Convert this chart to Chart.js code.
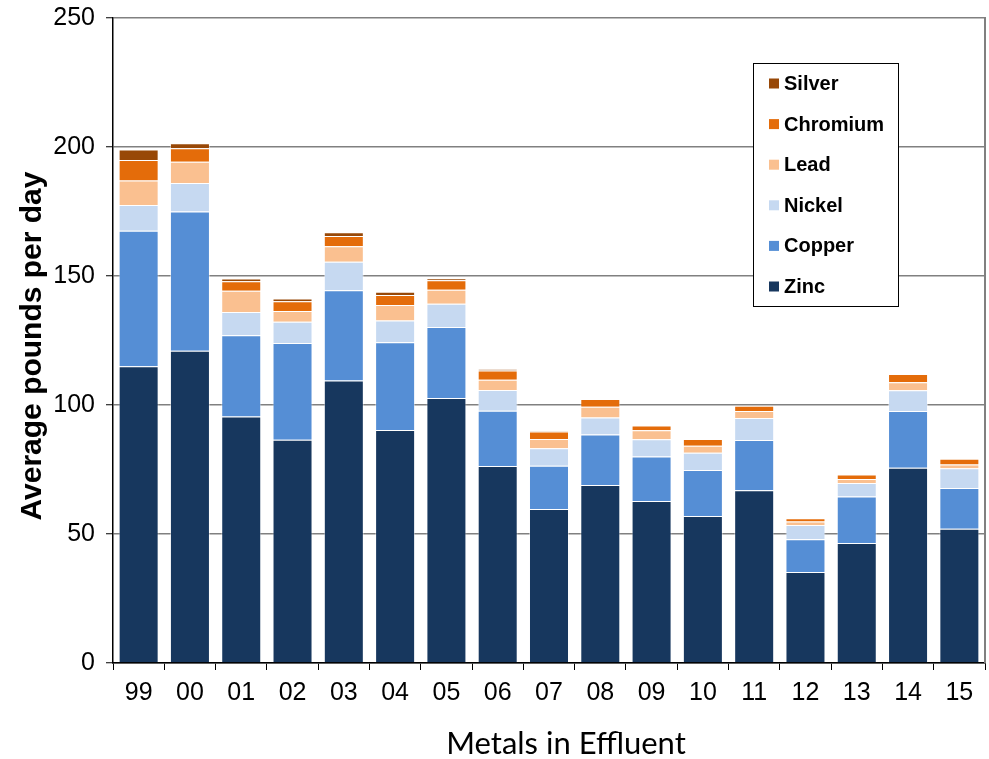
<!DOCTYPE html>
<html>
<head>
<meta charset="utf-8">
<script src="https://cdn.jsdelivr.net/npm/chart.js@4.4.1/dist/chart.umd.min.js"></script>
<style>
  html, body { margin: 0; padding: 0; background: #fff; }
  #wrap { width: 989px; height: 759px; }
</style>
</head>
<body>
<div id="wrap"><canvas id="c" width="989" height="759"></canvas></div>
<script>
// Average pounds per day of each metal in effluent, by year
const years    = ['99', '00', '01', '02', '03', '04', '05', '06', '07', '08', '09', '10', '11', '12', '13', '14', '15'];
const zinc     = [115, 121, 95.5, 86.5, 109.5, 90.3, 102.7, 76.4, 59.7, 69, 62.8, 57, 67, 35.3, 46.5, 75.7, 52];
const copper   = [52.5, 54, 31.5, 37.5, 35, 34, 27.5, 21.4, 16.8, 19.6, 17.2, 17.8, 19.4, 12.7, 18, 22, 15.8];
const nickel   = [10, 11, 9, 8.3, 11, 8.5, 9, 8, 6.7, 6.6, 6.7, 6.7, 8.6, 5.5, 5.3, 8, 7.7];
const lead     = [9.5, 8.3, 8.3, 4.1, 6, 6, 5.5, 4, 3.6, 4.1, 3.5, 2.7, 2.7, 1.3, 1.5, 3.1, 1.4];
const chromium = [8, 5.2, 3.7, 3.8, 4, 3.8, 3.7, 3.6, 2.9, 3, 1.9, 2.6, 2, 1.3, 1.8, 3.2, 2.3];
const silver   = [4, 2, 1, 1.1, 1.5, 1.3, 0.7, 0.5, 0.3, 0, 0, 0, 0, 0, 0, 0, 0];
const yTicks   = [0, 50, 100, 150, 200, 250];

const FONT = "'Liberation Sans', Arial, sans-serif";

const series = [
  { label: 'Zinc',     data: zinc,     color: '#17375E' },
  { label: 'Copper',   data: copper,   color: '#558ED5' },
  { label: 'Nickel',   data: nickel,   color: '#C6D9F1' },
  { label: 'Lead',     data: lead,     color: '#FAC090' },
  { label: 'Chromium', data: chromium, color: '#E46C0A' },
  { label: 'Silver',   data: silver,   color: '#984807' }
];

// Boxed legend inside the plot, top series first
const boxLegend = {
  id: 'boxLegend',
  afterDraw(chart) {
    const ctx = chart.ctx;
    const x0 = 753, y0 = 63, w = 145, h = 243;
    ctx.save();
    ctx.fillStyle = '#fff';
    ctx.fillRect(x0, y0, w, h);
    ctx.strokeStyle = '#000';
    ctx.lineWidth = 1;
    ctx.strokeRect(x0 + 0.5, y0 + 0.5, w, h);
    const items = chart.data.datasets.slice().reverse();
    ctx.font = 'bold 20px ' + FONT;
    ctx.textBaseline = 'middle';
    ctx.textAlign = 'left';
    items.forEach((ds, i) => {
      const cy = y0 + 20.5 + i * 40.6;
      ctx.fillStyle = ds.backgroundColor;
      ctx.fillRect(x0 + 16, cy - 5, 10, 10);
      ctx.fillStyle = '#000';
      ctx.fillText(ds.label, x0 + 31, cy + 1);
    });
    ctx.restore();
  }
};

// Axis titles and right frame line
const frame = {
  id: 'frame',
  afterDraw(chart) {
    const ctx = chart.ctx;
    const a = chart.chartArea;
    ctx.save();
    ctx.strokeStyle = '#808080';
    ctx.lineWidth = 2;
    ctx.beginPath();
    ctx.moveTo(a.right, a.top - 1);
    ctx.lineTo(a.right, a.bottom);
    ctx.stroke();

    ctx.fillStyle = '#000';
    ctx.textAlign = 'center';
    ctx.textBaseline = 'middle';
    ctx.font = "31px Lato, 'Open Sans', sans-serif";
    ctx.fillText('Metals in Effluent', 566, 744);

    ctx.translate(33, 346);
    ctx.rotate(-Math.PI / 2);
    ctx.font = 'bold 30px ' + FONT;
    ctx.fillText('Average pounds per day', 0, 0);
    ctx.restore();
  }
};

new Chart(document.getElementById('c'), {
  type: 'bar',
  data: {
    labels: years,
    datasets: series.map(s => ({
      label: s.label,
      data: s.data,
      backgroundColor: s.color,
      borderColor: 'rgba(255,255,255,0.45)',
      borderWidth: 1,
      barPercentage: 0.78,
      categoryPercentage: 1.0
    }))
  },
  options: {
    responsive: false,
    devicePixelRatio: 1,
    animation: false,
    layout: { padding: { top: 18, right: 4, left: 0, bottom: 0 } },
    plugins: {
      legend: { display: false },
      tooltip: { enabled: false }
    },
    scales: {
      x: {
        stacked: true,
        afterFit(scale) {
          scale.height = 96;
          scale.paddingLeft = 0;
          scale.paddingRight = 0;
        },
        grid: {
          offset: true,
          drawOnChartArea: false,
          drawTicks: true,
          tickLength: 7,
          tickColor: '#000',
          tickWidth: 1
        },
        border: { display: true, color: '#000', width: 1.5 },
        ticks: {
          color: '#000',
          font: { family: FONT, size: 25 },
          padding: 8,
          maxRotation: 0
        }
      },
      y: {
        stacked: true,
        min: 0,
        max: 250,
        afterFit(scale) {
          scale.width = 113;
          scale.paddingTop = 0;
          scale.paddingBottom = 0;
        },
        afterBuildTicks(scale) { scale.ticks = yTicks.map(v => ({ value: v })); },
        grid: {
          color: '#808080',
          lineWidth: 1.5,
          drawTicks: true,
          tickLength: 7,
          tickColor: '#000',
          tickWidth: 1
        },
        border: { display: true, color: '#000', width: 1.5 },
        ticks: {
          color: '#000',
          font: { family: FONT, size: 25 },
          padding: 11
        }
      }
    }
  },
  plugins: [boxLegend, frame]
});
</script>
</body>
</html>
